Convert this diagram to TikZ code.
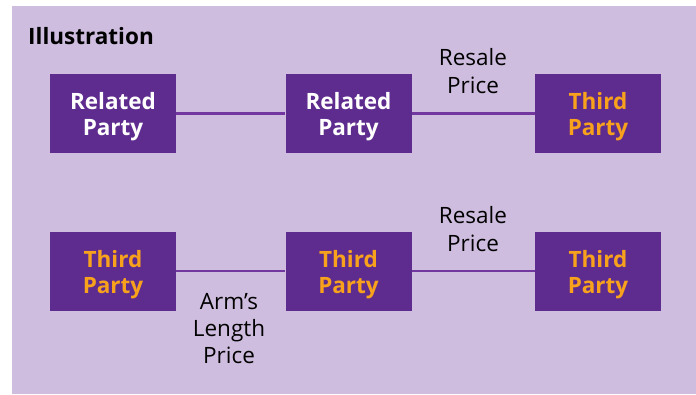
\documentclass[tikz,border=0pt]{standalone}
\usepackage{fontspec}
\setmainfont{Open Sans}
\begin{document}
\definecolor{panel}{HTML}{CFBDDF}
\definecolor{boxfill}{HTML}{5E2C8E}
\definecolor{linkcol}{HTML}{7238A0}
\definecolor{accent}{HTML}{F7A11C}
\begin{tikzpicture}[x=1pt,y=-1pt,
  party/.style={draw=none,fill=boxfill,minimum width=126pt,minimum height=79pt,inner sep=0pt},
  boxtext/.style={anchor=base,align=center,font=\fontsize{22.5}{26}\selectfont\bfseries,inner sep=0pt},
  related/.style={boxtext,text=white},
  third/.style={boxtext,text=accent},
  link/.style={draw=linkcol,line width=2.7pt},
  price/.style={anchor=base,align=center,font=\fontsize{22.5}{28}\selectfont,text=black,inner sep=0pt}]
\useasboundingbox (0,0) rectangle (696,394);
\fill[panel] (12,6) rectangle (696,394);
\node[anchor=base west,font=\fontsize{22.5}{26}\selectfont\bfseries,inner sep=0pt] (title) at (28,44) {Illustration};
% first chain (text anchored at the baseline of its last line)
\node[party] (a1) at (113,113.5) {};
\node[party] (a2) at (348.5,113.5) {};
\node[party] (a3) at (598,113.5) {};
\node[related] (ta1) at (113,135) {Related\\Party};
\node[related] (ta2) at (348.5,135) {Related\\Party};
\node[third]   (ta3) at (598,135) {Third\\Party};
\draw[link] (a1.east) -- (a2.west);
\draw[link] (a2.east) -- (a3.west);
\node[price] (p1) at (473,93) {Resale\\Price};
% second chain
\node[party] (b1) at (113,271) {};
\node[party] (b2) at (348.5,271) {};
\node[party] (b3) at (598,271) {};
\node[third] (tb1) at (113,293) {Third\\Party};
\node[third] (tb2) at (348.5,293) {Third\\Party};
\node[third] (tb3) at (598,293) {Third\\Party};
\draw[link] (b1.east) -- (b2.west);
\draw[link] (b2.east) -- (b3.west);
\node[price] (p2) at (473,251) {Resale\\Price};
\node[price,font=\fontsize{22.5}{27}\selectfont] (p3) at (229,363) {Arm’s\\Length\\Price};
\end{tikzpicture}
\end{document}
